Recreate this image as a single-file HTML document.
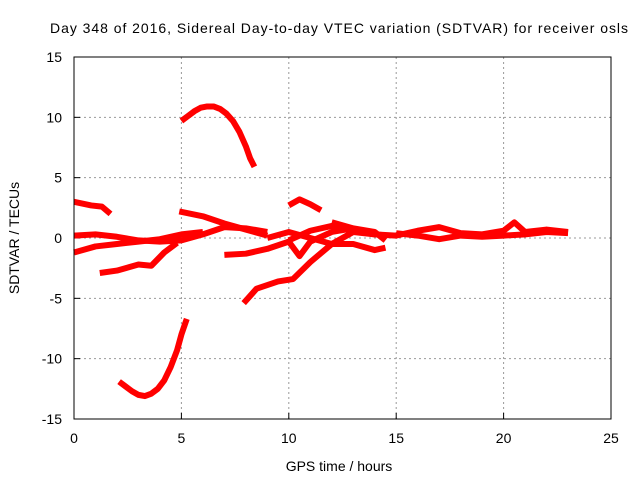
<!DOCTYPE html>
<html><head><meta charset="utf-8"><style>body{margin:0;background:#fff}svg{display:block;font-family:"Liberation Sans",sans-serif}</style></head>
<body>
<svg id="c" width="640" height="480">
<text x="339" y="33" text-anchor="middle" font-size="14" textLength="578">Day 348 of 2016, Sidereal Day-to-day VTEC variation (SDTVAR) for receiver osls</text>
<text x="339" y="471" text-anchor="middle" font-size="14">GPS time / hours</text>
<text transform="translate(19,238) rotate(-90)" text-anchor="middle" font-size="14">SDTVAR / TECUs</text>
<g id="grid"></g><g id="series"></g>
<rect x="74" y="57" width="537" height="362" fill="none" stroke="#000" stroke-width="1"/>
</svg>
<script>
const xTicks=[0,5,10,15,20,25];
const yTicks=[-15,-10,-5,0,5,10,15];
const seg1=[[5,9.7],[5.3,10.1],[5.6,10.5],[5.9,10.8],[6.2,10.9],[6.5,10.9],[6.8,10.7],[7.1,10.3],[7.4,9.7],[7.7,8.8],[8,7.6],[8.2,6.6],[8.4,5.9]];
const seg2=[[2.1,-11.9],[2.4,-12.3],[2.7,-12.7],[3.0,-13.0],[3.3,-13.1],[3.6,-12.9],[3.9,-12.5],[4.2,-11.8],[4.5,-10.7],[4.8,-9.3],[5.0,-8.0],[5.25,-6.7]];
const seg3=[[0,3.0],[0.8,2.7],[1.3,2.6],[1.7,2.0]];
const seg4=[[4.9,2.2],[6,1.8],[7,1.2],[8,0.7],[9,0.2]];
const seg5=[[10,2.7],[10.5,3.2],[11,2.8],[11.5,2.3]];
const seg6=[[0,-1.2],[1,-0.7],[2,-0.5],[3,-0.3],[4,-0.1],[5,0.3],[6,0.5]];
const seg7=[[1.2,-2.9],[2,-2.7],[3,-2.2],[3.6,-2.3],[4.2,-1.2],[4.8,-0.4]];
const seg8=[[0,0.2],[1,0.3],[2,0.1],[3,-0.2],[4,-0.3],[5,-0.2],[6,0.3],[7,0.9],[8,0.8],[9,0.5]];
const seg9=[[7,-1.4],[8,-1.3],[9,-0.9],[10,-0.3],[10.5,-1.5],[11,-0.3],[12,0.5],[13,0.8]];
const seg10=[[7.9,-5.4],[8.5,-4.2],[9.5,-3.6],[10.2,-3.4],[11,-2.0],[12,-0.5],[13,0.5],[14,0.3]];
const seg11=[[9,0],[10,0.5],[11,0],[12,-0.5],[13,-0.5],[14,-1.0],[14.5,-0.8]];
const seg12=[[10,-0.2],[11,0.6],[12,1.0],[13,0.6],[14,0.3],[15,0.2],[16,0.6],[17,0.9],[18,0.4],[19,0.3],[20,0.6],[20.5,1.3],[21,0.5],[22,0.7],[23,0.5]];
const seg13=[[15,0.4],[16,0.2],[17,-0.1],[18,0.2],[19,0.1],[20,0.2],[21,0.3],[22,0.5],[23,0.4]];
const seg14=[[12,1.3],[13,0.8],[14,0.5],[14.5,-0.2]];
const allSegs=[seg1,seg2,seg3,seg4,seg5,seg6,seg7,seg8,seg9,seg10,seg11,seg12,seg13,seg14];
const NS='http://www.w3.org/2000/svg';
const X=h=>74+h*(537/25), Y=v=>238-v*(362/30);
const grid=document.getElementById('grid'), ser=document.getElementById('series');
function mk(tag,a,p){const e=document.createElementNS(NS,tag);for(const k in a)e.setAttribute(k,a[k]);p.appendChild(e);return e;}
xTicks.forEach(t=>{
 if(t>0&&t<25){const l=mk('line',{x1:X(t),x2:X(t),y1:57,y2:419,stroke:'#999','stroke-dasharray':'2,3'},grid);
 
 }
 const s=mk('line',{x1:X(t),x2:X(t),y1:419,y2:413,stroke:'#000'},grid);
 
 
 const tx=mk('text',{x:X(t),y:443,'text-anchor':'middle','font-size':14},grid);tx.textContent=t;
 
 
});
yTicks.forEach(t=>{
 if(t>-15&&t<15){const l=mk('line',{x1:74,x2:611,y1:Y(t),y2:Y(t),stroke:'#999','stroke-dasharray':'2,3'},grid);
 
 }
 const s=mk('line',{x1:74,x2:80,y1:Y(t),y2:Y(t),stroke:'#000'},grid);
 
 
 const tx=mk('text',{x:62,y:Y(t)+5,'text-anchor':'end','font-size':14},grid);tx.textContent=t;
 
 
});
allSegs.forEach(s=>{
 const p=mk('polyline',{points:s.map(d=>X(d[0])+','+Y(d[1])).join(' '),fill:'none',stroke:'#f00','stroke-width':6,'stroke-linejoin':'round'},ser);
 
 
});
</script>
</body></html>
